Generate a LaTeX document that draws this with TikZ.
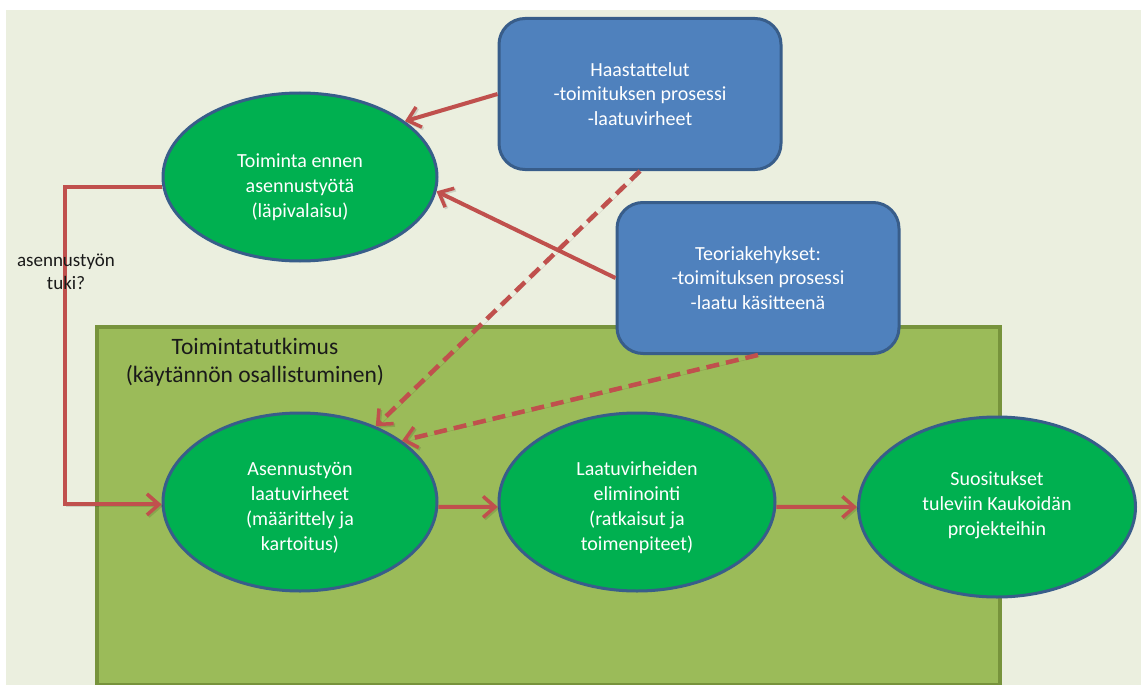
\documentclass[tikz,border=0pt]{standalone}
\usepackage{fontspec}
\setmainfont{Carlito}
\usetikzlibrary{shapes.geometric,arrows.meta}
\definecolor{bgc}{HTML}{EBEFDF}
\definecolor{framefill}{HTML}{9BBB59}
\definecolor{frameline}{HTML}{77933C}
\definecolor{ovalfill}{HTML}{00B050}
\definecolor{navyline}{HTML}{385D8A}
\definecolor{boxfill}{HTML}{4F81BD}
\definecolor{linkred}{HTML}{C0504D}
\definecolor{inkdark}{HTML}{1A1A1A}

\tikzset{
  oval/.style={ellipse, draw=navyline, line width=3pt, fill=ovalfill, inner sep=0pt},
  ovaltext/.style={align=center, text=white, font=\fontsize{20}{25}\selectfont},
  infobox/.style={rectangle, rounded corners=26pt, draw=navyline, line width=3pt,
    fill=boxfill, text=white, align=center, inner sep=0pt,
    font=\fontsize{20}{24.5}\selectfont},
  link/.style={draw=linkred, line width=4pt,
    preaction={draw=black, draw opacity=0.12, transform canvas={shift={(1.5,1.5)}}},
    -{Straight Barb[length=12pt,width=21pt,line width=3.5pt]}},
  dashlink/.style={link, line width=4.5pt, dash pattern=on 13pt off 7pt},
}

\begin{document}
\begin{tikzpicture}[x=1pt,y=-1pt]
\useasboundingbox (0,0) rectangle (1141,685);
% page background
\fill[bgc] (6,10) rectangle (1141,685);
% action research frame
\node[draw=frameline, fill=framefill, line width=3.5pt, minimum width=903pt,
      minimum height=358pt, inner sep=0pt, anchor=north west] (frame) at (95,325) {};
\node[text=inkdark, align=center, font=\fontsize{23.5}{28}\selectfont] (frametitle)
  at (255,362) {Toimintatutkimus\\(käytännön osallistuminen)};

% ovals
\node[oval, minimum width=274pt, minimum height=168pt] (e1) at (300,177) {};
\node[ovaltext] (t1) at (300,187) {Toiminta ennen\\asennustyötä\\(läpivalaisu)};
\node[oval, minimum width=274pt, minimum height=178pt] (e2) at (300,502) {};
\node[ovaltext] (t2) at (300,508) {Asennustyön\\laatuvirheet\\(määrittely ja\\kartoitus)};
\node[oval, minimum width=276pt, minimum height=178pt] (e3) at (637,502) {};
\node[ovaltext] (t3) at (637,508) {Laatuvirheiden\\eliminointi\\(ratkaisut ja\\toimenpiteet)};
\node[oval, minimum width=277pt, minimum height=180pt] (e4) at (997,507) {};
\node[ovaltext] (t4) at (997,505) {Suositukset\\tuleviin Kaukoidän\\projekteihin};

% input boxes
\node[infobox, minimum width=282pt, minimum height=151pt] (b1) at (640,94)
  {Haastattelut\\-toimituksen prosessi\\-laatuvirheet};
\node[infobox, minimum width=282pt, minimum height=151pt] (b2) at (758,278)
  {Teoriakehykset:\\-toimituksen prosessi\\-laatu käsitteenä};

% connectors
\draw[link] (b1.west) -- (e1.28);
\draw[link] (b2.west) -- (e1.-6);
\draw[dashlink] (b1.south) -- (e2.45);
\draw[dashlink] (b2.south) -- (e2.31);
\coordinate (bend) at (65,345);
\draw[link] (e1.184) -| (bend) |- (e2.181);
\draw[link] (e2.-2) -- (e3.182);
\draw[link] (e3.-2) -- (e4.west);

\node[text=inkdark, align=center, font=\fontsize{19}{23}\selectfont] (tuki)
  at (66,272) {asennustyön\\tuki?};
\end{tikzpicture}
\end{document}
